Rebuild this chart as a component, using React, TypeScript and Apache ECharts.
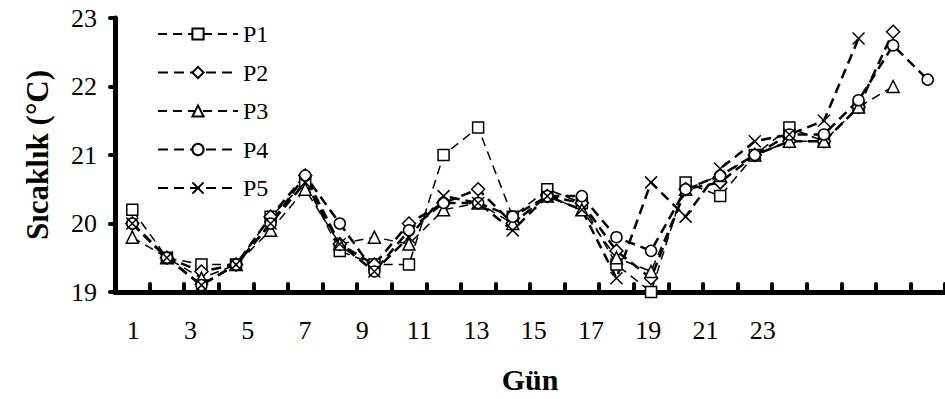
import React, { useEffect, useRef } from "react";
import * as echarts from "echarts";

const days = ["1","2","3","4","5","6","7","8","9","10","11","12","13","14","15","16","17","18","19","20","21","22","23","24"];
const p1 = [20.2,19.5,19.4,19.4,20.1,20.6,19.6,19.4,19.4,21.0,21.4,20.1,20.5,20.3,19.4,19.0,20.6,20.4,21.0,21.4,21.2,21.7,null,null];
const p2 = [20.0,19.5,19.3,19.4,20.1,20.7,19.7,19.4,20.0,20.3,20.5,20.0,20.4,20.3,19.6,19.2,20.5,20.6,21.0,21.2,21.2,21.7,22.8,null];
const p3 = [19.8,19.5,19.2,19.4,19.9,20.5,19.7,19.8,19.7,20.2,20.3,20.0,20.4,20.2,19.5,19.3,20.5,20.7,21.0,21.2,21.2,21.7,22.0,null];
const p4 = [20.0,19.5,19.1,19.4,20.0,20.7,20.0,19.3,19.9,20.3,20.3,20.1,20.4,20.4,19.8,19.6,20.5,20.7,21.0,21.3,21.3,21.8,22.6,22.1];
const p5 = [20.0,19.5,19.1,19.4,20.0,20.6,19.7,19.3,19.8,20.4,20.3,19.9,20.4,20.2,19.2,20.6,20.1,20.8,21.2,21.3,21.5,22.7,null,null];
const labelDays = [1,3,5,7,9,11,13,15,17,19,21,23];

const FONT = "'Liberation Serif', 'Times New Roman', serif";

export default function App() {
  const ref = useRef<HTMLDivElement>(null);
  useEffect(() => {
    document.body.style.margin = "0";
    const chart = echarts.init(ref.current!, null, { renderer: "svg" });
    const mk = (name: string, data: (number | null)[], symbol: string, size: number, width: number, dash: number[]) => ({
      name,
      type: "line",
      data,
      symbol,
      symbolSize: size,
      showAllSymbol: true,
      connectNulls: false,
      clip: false,
      lineStyle: { color: "#000", width, type: dash },
      itemStyle: { color: "#fff", borderColor: "#000", borderWidth: 1.5 },
      z: 3,
    });
    chart.setOption({
      animation: false,
      backgroundColor: "#fff",
      textStyle: { fontFamily: FONT, color: "#000" },
      legend: {
        orient: "vertical",
        left: 152,
        top: 17,
        itemWidth: 80,
        itemHeight: 14,
        itemGap: 14.5,
        textStyle: { fontFamily: FONT, fontSize: 24, lineHeight: 22, color: "#000" },
        data: ["P1", "P2", "P3", "P4", "P5"],
      },
      grid: [
        { left: 115, right: 0, top: 18, bottom: 106 },
        { left: 76, right: 125, top: 18, bottom: 106 },
      ],
      xAxis: [
        {
          type: "category",
          data: days,
          boundaryGap: true,
          gridIndex: 0,
          axisLine: { lineStyle: { color: "#000", width: 5 } },
          axisTick: { show: true, inside: true, length: 8, alignWithLabel: false, interval: 0, lineStyle: { color: "#000", width: 4, cap: "round" } },
          axisLabel: { show: false },
          splitLine: { show: false },
          name: "Gün",
          nameLocation: "middle",
          nameGap: 72,
          nameTextStyle: { fontFamily: FONT, fontSize: 30, fontWeight: "bold", color: "#000" },
        },
        {
          type: "value",
          gridIndex: 1,
          min: -1,
          max: 25,
          interval: 2,
          axisLine: { show: false },
          axisTick: { show: false },
          splitLine: { show: false },
          axisLabel: {
            margin: 24,
            fontFamily: FONT,
            fontSize: 26,
            color: "#000",
            formatter: (v: number) => (labelDays.indexOf(v) >= 0 ? String(v) : ""),
          },
        },
      ],
      yAxis: [
        {
          type: "value",
          gridIndex: 0,
          min: 19,
          max: 23,
          interval: 1,
          axisLine: { show: true, lineStyle: { color: "#000", width: 5, cap: "round" } },
          axisTick: { show: true, length: 5, lineStyle: { color: "#000", width: 4, cap: "round" } },
          axisLabel: { margin: 18, fontFamily: FONT, fontSize: 26, color: "#000" },
          splitLine: { show: false },
          name: "Sıcaklık (°C)",
          nameLocation: "middle",
          nameGap: 62,
          nameTextStyle: { fontFamily: FONT, fontSize: 31, fontWeight: "bold", color: "#000" },
        },
        { type: "value", gridIndex: 1, show: false, min: 19, max: 23 },
      ],
      series: [
        mk("P1", p1, "rect", 11, 1.5, [9, 6]),
        mk("P2", p2, "diamond", 13, 2.5, [10, 6]),
        mk("P3", p3, "triangle", 12, 1.5, [9, 6]),
        mk("P4", p4, "circle", 11, 2.5, [10, 6]),
        mk("P5", p5, "path://M0,0L10,10M10,0L0,10", 12, 2.5, [10, 6]),
      ],
    });
    return () => chart.dispose();
  }, []);
  return <div ref={ref} style={{ width: 945, height: 399 }} />;
}
